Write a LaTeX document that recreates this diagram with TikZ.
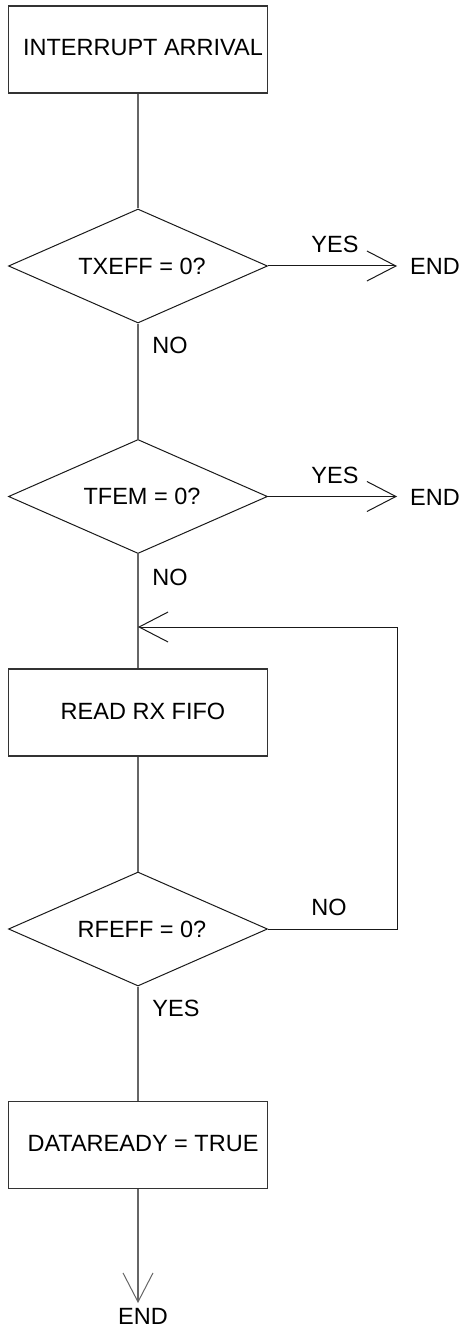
\documentclass[tikz,border=0pt]{standalone}
\usepackage{fontspec}
\setmainfont{Liberation Sans}
\usetikzlibrary{shapes.geometric,arrows.meta}
\begin{document}
\begin{tikzpicture}[x=1pt,y=-1pt,
  every node/.style={font=\fontsize{23.5}{28}\selectfont},
  caption/.style={inner sep=0pt},
  procbox/.style={rectangle, draw=black!80, line width=1.1pt,
    minimum width=259pt, minimum height=87pt, inner sep=0pt},
  decision/.style={diamond, draw=black!90, line width=1pt, aspect=2.27,
    minimum width=259pt, minimum height=114pt, inner sep=0pt},
  flow/.style={draw=black!60, line width=1.1pt},
  branch/.style={draw=black!90, line width=1pt},
  tip/.style={-{Straight Barb[length=29pt,width=30pt,line width=1pt]}}
]
\useasboundingbox (0,0) rectangle (471,1329);

% main column
\node[procbox, label={[caption,xshift=5pt,yshift=1.5pt]center:INTERRUPT ARRIVAL}] (b1) at (138,49.5) {};
\node[decision, label={[caption,xshift=4pt]center:TXEFF = 0?}] (d1) at (138,266) {};
\node[decision, label={[caption,xshift=4pt]center:TFEM = 0?}] (d2) at (138,496.5) {};
\node[procbox, label={[caption,xshift=5pt,yshift=1.5pt]center:READ RX FIFO}] (b2) at (138,712.5) {};
\node[decision, label={[caption,xshift=4pt]center:RFEFF = 0?}] (d3) at (138,929) {};
\node[procbox, label={[caption,xshift=5pt,yshift=1pt]center:DATAREADY = TRUE}] (b3) at (138,1145) {};

% branch labels and terminals
\node[caption] (yes1) at (335,244) {YES};
\node[caption] (end1) at (435,266) {END};
\node[caption] (no1)  at (170,345) {NO};
\node[caption] (yes2) at (335,475) {YES};
\node[caption] (end2) at (435,497) {END};
\node[caption] (no2)  at (170,577) {NO};
\node[caption] (no3)  at (329,907) {NO};
\node[caption] (yes3) at (176,1008) {YES};
\node[caption] (end3) at (143,1316) {END};

% arrow tips and corners
\coordinate (t1) at (397,266);
\coordinate (t2) at (397,496.5);
\coordinate (loop) at (397,627);
\coordinate (join) at (138,627);
\coordinate (t3) at (138,1303);

% vertical flow
\draw[flow] (b1) -- (d1);
\draw[flow] (d1) -- (d2);
\draw[flow] (d2) -- (b2);
\draw[flow] (b2) -- (d3);
\draw[flow] (d3) -- (b3);
\draw[flow,tip] (b3.south) -- (t3);

% side branches
\draw[branch,tip] (d1.east) -- (t1);
\draw[branch,tip] (d2.east) -- (t2);
\draw[branch,tip] (d3.east) -| (loop) -- (join);
\end{tikzpicture}
\end{document}
